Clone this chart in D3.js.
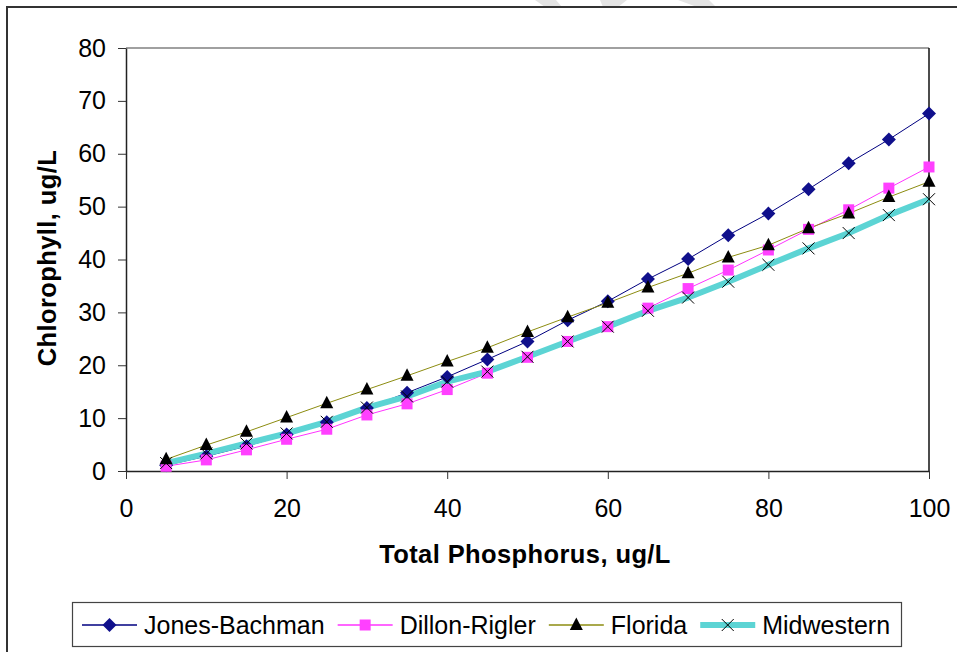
<!DOCTYPE html>
<html>
<head>
<meta charset="utf-8">
<script src="https://cdn.jsdelivr.net/npm/d3@7"></script>
<style>
  body { margin: 0; background: #fff; }
  svg { display: block; font-family: "Liberation Sans", Arial, sans-serif; }
</style>
</head>
<body>
<svg id="chart" width="957" height="652"></svg>
<script>
// values
const tp = [5, 10, 15, 20, 25, 30, 35, 40, 45, 50, 55, 60, 65, 70, 75, 80, 85, 90, 95, 100];
const jonesBachman = [1.1, 2.8, 4.7, 6.9, 9.2, 11.9, 14.8, 17.8, 21.1, 24.5, 28.5, 32.1, 36.3, 40.1, 44.6, 48.7, 53.3, 58.2, 62.7, 67.6];
const dillonRigler = [0.9, 2.1, 4.0, 6.0, 7.9, 10.6, 12.7, 15.4, 18.5, 21.5, 24.5, 27.3, 30.8, 34.5, 38.0, 41.8, 45.7, 49.4, 53.5, 57.5];
const florida = [2.2, 4.9, 7.4, 10.1, 12.8, 15.4, 18.0, 20.7, 23.3, 26.3, 29.1, 31.8, 34.7, 37.4, 40.4, 42.7, 45.9, 48.7, 51.8, 54.7];
const midwestern = [1.5, 3.3, 5.2, 7.1, 9.3, 12.0, 14.1, 16.9, 18.8, 21.6, 24.5, 27.3, 30.3, 32.8, 35.8, 39.0, 42.1, 45.0, 48.4, 51.4];
const xTicks = [0, 20, 40, 60, 80, 100];
const yTicks = [0, 10, 20, 30, 40, 50, 60, 70, 80];

const series = [
  { name: "Jones-Bachman", values: jonesBachman, line: "#000080", width: 1, marker: "diamond", fill: "#10108c" },
  { name: "Dillon-Rigler", values: dillonRigler, line: "#ff33ff", width: 1, marker: "square", fill: "#ff40ff" },
  { name: "Florida", values: florida, line: "#8c8c10", width: 1, marker: "triangle", fill: "#000" },
  { name: "Midwestern", values: midwestern, line: "#5cd4d4", width: 6, marker: "cross", fill: "none" }
];

const svg = d3.select("#chart");

// faint watermark fragments at top
const wm = [[[535, 0], [556, 0], [562, 7], [545, 7]], [[600, 0], [627, 0], [618, 7], [603, 7]], [[678, 0], [709, 0], [716, 7], [697, 7]]];
svg.selectAll(".wm").data(wm).enter().append("polygon")
  .attr("points", d => d.map(p => p.join(",")).join(" "))
  .attr("fill", "#e4e4e4");

// outer chart frame
svg.append("rect").attr("x", 7).attr("y", 7).attr("width", 1000).attr("height", 1000)
  .attr("fill", "none").attr("stroke", "#333").attr("stroke-width", 2);

const x = d3.scaleLinear().domain([0, 100]).range([126, 929]);
const y = d3.scaleLinear().domain([0, 80]).range([471, 48]);

// plot area border
svg.append("line").attr("x1", x(0)).attr("x2", x(100)).attr("y1", y(80)).attr("y2", y(80))
  .attr("stroke", "#808080").attr("stroke-width", 1.5);
svg.append("line").attr("x1", x(100)).attr("x2", x(100)).attr("y1", y(80)).attr("y2", y(0))
  .attr("stroke", "#111").attr("stroke-width", 1.5);

const yAxis = svg.append("g").attr("transform", `translate(${x(0)},0)`)
  .call(d3.axisLeft(y).tickValues(yTicks).tickSize(8).tickSizeOuter(0).tickPadding(12));
const xAxis = svg.append("g").attr("transform", `translate(0,${y(0)})`)
  .call(d3.axisBottom(x).tickValues(xTicks).tickSize(8).tickSizeOuter(0).tickPadding(20));

[xAxis, yAxis].forEach(a => {
  a.select(".domain").attr("stroke", "#222").attr("stroke-width", 1.5);
  a.selectAll(".tick line").attr("stroke", "#333");
  a.selectAll(".tick text").attr("fill", "#000").style("font-size", "25px")
    .style("font-family", '"Liberation Sans", Arial, sans-serif');
});

svg.append("text").attr("x", 525).attr("y", 563).attr("text-anchor", "middle")
  .style("font-size", "25.5px").style("font-weight", "bold").style("letter-spacing", "0.4px")
  .text("Total Phosphorus, ug/L");
svg.append("text").attr("transform", "translate(56,258) rotate(-90)").attr("text-anchor", "middle")
  .style("font-size", "25.5px").style("font-weight", "bold").style("letter-spacing", "0.4px")
  .text("Chlorophyll, ug/L");

function markerPath(type) {
  if (type === "diamond") return "M0,-7L7,0L0,7L-7,0Z";
  if (type === "square") return "M-5.5,-5.5H5.5V5.5H-5.5Z";
  if (type === "triangle") return "M0,-7.5L6.5,5L-6.5,5Z";
  return "M-6,-6L6,6M-6,6L6,-6";
}

function drawMarker(g, s, cx, cy) {
  const p = g.append("path").attr("transform", `translate(${cx},${cy})`).attr("d", markerPath(s.marker));
  if (s.marker === "cross") p.attr("fill", "none").attr("stroke", "#000").attr("stroke-width", 1);
  else p.attr("fill", s.fill);
}

const line = d3.line().x(d => x(d[0])).y(d => y(d[1]));

// lines first, then markers
series.forEach(s => {
  svg.append("path").datum(tp.map((t, i) => [t, s.values[i]]))
    .attr("d", line).attr("fill", "none")
    .attr("stroke", s.line).attr("stroke-width", s.width).attr("stroke-linejoin", "round");
});
series.forEach(s => {
  const g = svg.append("g");
  tp.forEach((t, i) => drawMarker(g, s, x(t), y(s.values[i])));
});

// legend
const legend = svg.append("g");
legend.append("rect").attr("x", 72.5).attr("y", 602.5).attr("width", 829).attr("height", 44)
  .attr("fill", "#fff").attr("stroke", "#444").attr("stroke-width", 1.2);
let cx = 82;
const ly = 625;
series.forEach(s => {
  legend.append("line").attr("x1", cx).attr("x2", cx + 55).attr("y1", ly).attr("y2", ly)
    .attr("stroke", s.line).attr("stroke-width", s.width === 1 ? 1.5 : 6);
  drawMarker(legend, s, cx + 27.5, ly);
  const t = legend.append("text").attr("x", cx + 62).attr("y", ly + 8.5)
    .style("font-size", "25px").text(s.name);
  cx += 62 + t.node().getComputedTextLength() + 13;
});
</script>
</body>
</html>
